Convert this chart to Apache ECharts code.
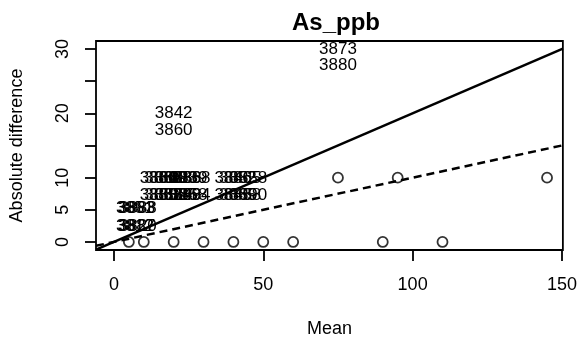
<!DOCTYPE html>
<html>
<head>
<meta charset="utf-8">
<script src="https://cdn.jsdelivr.net/npm/echarts@6/dist/echarts.min.js"></script>
<style>html,body{margin:0;padding:0;background:#fff;}#c{width:580px;height:345px;}</style>
</head>
<body>
<div id="c"></div>
<script>
// ---- data ----
const titleText = "As_ppb";
const xName = "Mean";
const yName = "Absolute difference";
const xTicks = [0, 50, 100, 150];
const yTicks = [0, 5, 10, 15, 20, 25, 30];
const yTickLabels = [0, 5, 10, 20, 30];
const xRange = [-6, 150.3];
const yRange = [-1.25, 31.25];
// circles
const pointX = [5, 10, 20, 30, 40, 50, 60, 90, 110, 75, 95, 145];
const pointY = [0, 0, 0, 0, 0, 0, 0, 0, 0, 10, 10, 10];
// id labels drawn as text
const labelX = [75, 75, 20, 20,
  15, 16.5, 18, 20, 21.5, 23, 25, 26, 40, 41.5, 43, 45,
  15, 16.5, 18, 20, 21.5, 23, 25, 26, 40, 41.5, 43, 45,
  7, 7.5, 8, 7, 7.5, 8];
const labelY = [29.9, 27.5, 20.0, 17.4,
  9.9, 9.9, 9.9, 9.9, 9.9, 9.9, 9.9, 9.9, 9.9, 9.9, 9.9, 9.9,
  7.2, 7.2, 7.2, 7.2, 7.2, 7.2, 7.2, 7.2, 7.2, 7.2, 7.2, 7.2,
  5.3, 5.3, 5.3, 2.4, 2.4, 2.4];
const labelText = ["3873", "3880", "3842", "3860",
  "3861", "3866", "3869", "3878", "3883", "3888", "3839", "3868", "3846", "3852", "3865", "3858",
  "3855", "3862", "3856", "3859", "3825", "3848", "3868", "3894", "3846", "3865", "3858", "3890",
  "3851", "3883", "3888", "3812", "3887", "3820"];
// reference lines y = slope * x
const refSlopes = [0.2, 0.1];
const refTypes = ["solid", [8, 5]];

const FONT = "Liberation Sans, Arial, Helvetica, sans-serif";

const chart = echarts.init(document.getElementById('c'), null, {renderer: 'canvas'});

const series = [];
refSlopes.forEach((s, i) => {
  series.push({
    type: 'line', silent: true, symbol: 'none', clip: true,
    data: [[xRange[0], s * xRange[0]], [xRange[1], s * xRange[1]]],
    lineStyle: {color: '#000', width: 2.5, type: refTypes[i]}
  });
});
series.push({
  type: 'scatter', symbol: 'circle', symbolSize: 10,
  data: pointX.map((x, i) => [x, pointY[i]]),
  itemStyle: {color: '#fff', borderColor: '#000', borderWidth: 1.8}
});
series.push({
  type: 'scatter', symbol: 'circle', symbolSize: 1,
  data: labelX.map((x, i) => ({value: [x, labelY[i]], name: labelText[i]})),
  itemStyle: {color: 'rgba(0,0,0,0)'},
  label: {show: true, position: 'inside', formatter: p => p.name,
    color: '#000', opacity: 1, textBorderWidth: 0,
    fontFamily: FONT, fontSize: 17}
});

chart.setOption({
  animation: false,
  backgroundColor: '#fff',
  title: {text: titleText, left: 331, top: 6, textAlign: 'center',
    textStyle: {fontFamily: FONT, fontWeight: 'bold', fontSize: 24, color: '#000'}},
  grid: {left: 96, right: 16, top: 41, bottom: 95, show: true,
    borderColor: '#000', borderWidth: 1.8, backgroundColor: 'transparent'},
  xAxis: {
    type: 'value', min: xRange[0], max: xRange[1],
    name: xName, nameLocation: 'middle', nameGap: 70,
    nameTextStyle: {fontFamily: FONT, fontSize: 18, color: '#000'},
    axisLine: {show: false, onZero: false},
    splitLine: {show: false},
    axisTick: {show: true, inside: false, length: 11, customValues: xTicks,
      lineStyle: {color: '#000', width: 1.8}},
    axisLabel: {customValues: xTicks, margin: 26, fontFamily: FONT, fontSize: 18, color: '#000'}
  },
  yAxis: {
    type: 'value', min: yRange[0], max: yRange[1],
    name: yName, nameLocation: 'middle', nameGap: 70, nameRotate: 90,
    nameTextStyle: {fontFamily: FONT, fontSize: 18, color: '#000'},
    axisLine: {show: false, onZero: false},
    splitLine: {show: false},
    axisTick: {show: true, inside: false, length: 11, customValues: yTicks,
      lineStyle: {color: '#000', width: 1.8}},
    axisLabel: {customValues: yTickLabels, rotate: 90, margin: 24,
      align: 'center', verticalAlign: 'bottom',
      fontFamily: FONT, fontSize: 18, color: '#000'}
  },
  series: series
});
</script>
</body>
</html>
